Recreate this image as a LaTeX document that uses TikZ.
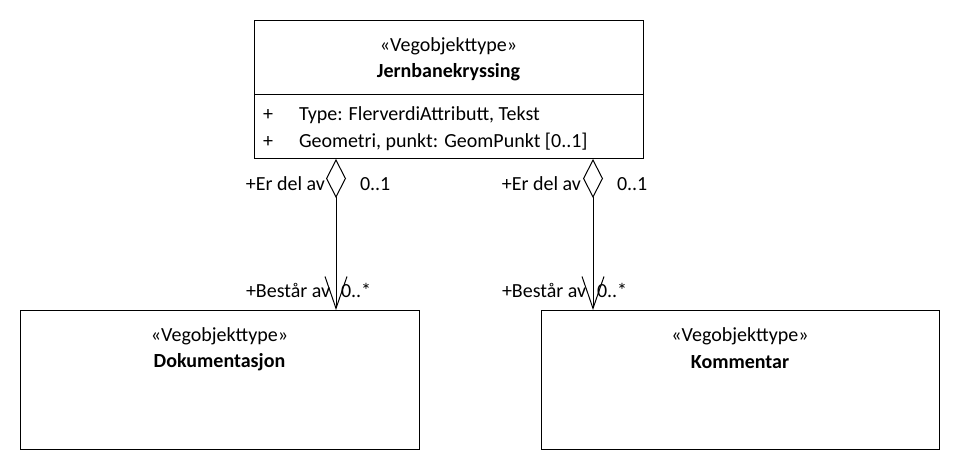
\documentclass[tikz,border=0pt]{standalone}
\usepackage{fontspec}
\setmainfont{Carlito}
\usetikzlibrary{arrows.meta}
\begin{document}
\begin{tikzpicture}[x=1pt,y=-1pt,line width=1pt,
  every node/.style={inner sep=0pt,outer sep=0pt,font=\fontsize{20}{24}\selectfont},
  cls/.style={draw,fill=white,anchor=north west},
  assoc/.style={{Diamond[open,length=39pt,width=20pt]}-{Straight Barb[length=32pt,width=22pt]}}]
\useasboundingbox (0,0) rectangle (960,470);
% top class
\node[cls,minimum width=389pt,minimum height=138pt] (top) at (254,21) {};
\draw (254,95) -- (643,95);
\node (topst) at (448.5,46) {«Vegobjekttype»};
\node (topnm) at (448.5,72) {\bfseries Jernbanekryssing};
\node[anchor=west] (p1) at (263,115) {+};
\node[anchor=west] (a1) at (299,115) {Type: FlerverdiAttributt, Tekst};
\node[anchor=west] (p2) at (263,142) {+};
\node[anchor=west] (a2) at (299,142) {Geometri, punkt: GeomPunkt [0..1]};
% bottom classes
\node[cls,minimum width=399pt,minimum height=139pt] (dok) at (20,310) {};
\node (dokst) at (219.5,336) {«Vegobjekttype»};
\node (doknm) at (219.5,362) {\bfseries Dokumentasjon};
\node[cls,minimum width=398pt,minimum height=139pt] (kom) at (541,310) {};
\node (komst) at (740,336) {«Vegobjekttype»};
\node (komnm) at (740,362) {\bfseries Kommentar};
% connectors
\coordinate (s1) at (336,159);
\coordinate (e1) at (336,310);
\coordinate (s2) at (593,159);
\coordinate (e2) at (593,310);
\draw[assoc] (s1) -- (e1);
\draw[assoc] (s2) -- (e2);
% labels
\node[anchor=east] (l1) at (325,184) {+Er del av};
\node[anchor=west] (m1) at (360,184) {0..1};
\node[anchor=west] (l2) at (246,290) {+Består av};
\node[anchor=west] (m2) at (341,290) {0..*};
\node[anchor=east] (l3) at (581,184) {+Er del av};
\node[anchor=west] (m3) at (617,184) {0..1};
\node[anchor=west] (l4) at (502,290) {+Består av};
\node[anchor=west] (m4) at (597,290) {0..*};
\end{tikzpicture}
\end{document}
